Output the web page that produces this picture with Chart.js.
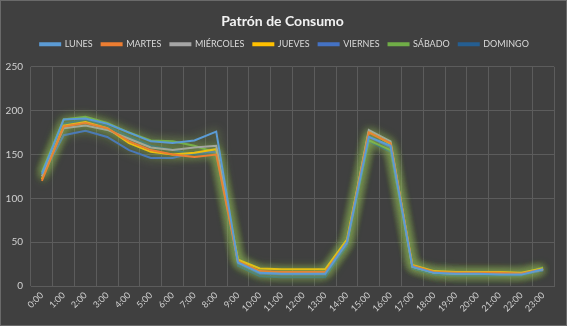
<!DOCTYPE html>
<html><head><meta charset="utf-8">
<script src="https://cdn.jsdelivr.net/npm/chart.js@4.4.0/dist/chart.umd.min.js"></script>
<style>
html,body{margin:0;padding:0;background:#404040;}
#wrap{position:relative;width:565px;height:324px;border:1px solid #6a6a6a;background:#404040;}
canvas{display:block;}
</style></head><body>
<div id="wrap"><canvas id="c" width="565" height="324"></canvas></div>
<script>
const hours = ["0:00","1:00","2:00","3:00","4:00","5:00","6:00","7:00","8:00","9:00","10:00","11:00","12:00","13:00","14:00","15:00","16:00","17:00","18:00","19:00","20:00","21:00","22:00","23:00"];
const seriesNames = ["LUNES","MARTES","MIÉRCOLES","JUEVES","VIERNES","SÁBADO","DOMINGO"];
const lunes     = [128,190,191,185,175,165,163,166,176,27,15,14,14,14,50,170,160,22,15,14,14,13,13,19];
const martes    = [120,182,186,180,165,155,150,147,150,28,17,16,16,16,50,175,163,23,16,15,15,15,14,19];
const miercoles = [125,180,183,178,168,158,155,158,160,27,16,15,15,15,50,178,165,22,15,14,14,14,14,19];
const jueves    = [122,183,187,180,163,153,150,152,156,30,20,19,19,19,53,176,162,24,17,16,16,16,15,20];
const viernes   = [125,172,177,170,155,146,146,152,153,26,14,13,13,13,48,170,158,22,15,14,14,14,13,18];
const sabado    = [130,190,193,186,175,166,165,160,152,30,16,15,15,15,50,166,155,22,15,14,14,14,14,21];
const domingo   = [130,185,190,182,170,160,155,150,150,23,11,10,10,10,46,165,153,20,13,12,12,12,12,18];
const yTicks = [0,50,100,150,200,250];

const colors = ["#5B9BD5","#ED7D31","#A5A5A5","#FFC000","#4472C4","#70AD47","#255E91"];
const values = [lunes,martes,miercoles,jueves,viernes,sabado,domingo];

const glowPlugin = {
  id:'glow',
  beforeDatasetDraw(chart, args){
    const ctx = chart.ctx;
    ctx.save();
    ctx.shadowColor = 'rgba(150,195,85,0.75)';
    ctx.shadowBlur = 10;
  },
  afterDatasetDraw(chart){
    chart.ctx.restore();
  }
};
function shiftBox(box, dx){
  const d = box.draw;
  box.draw = function(){ const c=this.ctx; c.save(); c.translate(dx,0); d.apply(this, arguments); c.restore(); };
}
const legendMargin = {
  id:'legendMargin',
  beforeInit(chart){
    const fit = chart.legend.fit;
    chart.legend.fit = function(){ fit.bind(chart.legend)(); this.height += 8; };
    shiftBox(chart.legend, 7);
    if (chart.titleBlock) shiftBox(chart.titleBlock, 5);
  }
};

new Chart(document.getElementById('c'), {
  type:'line',
  data:{
    labels: hours,
    datasets: seriesNames.map((n,i)=>({
      label:n, data:values[i], borderColor:colors[i], backgroundColor:colors[i],
      borderWidth:2, pointRadius:0, tension:0, fill:false
    }))
  },
  options:{
    responsive:false, animation:false,
    layout:{padding:{left:0,right:12,top:9,bottom:0}},
    plugins:{
      title:{display:true,text:'Patrón de Consumo',color:'#f2f2f2',
        font:{family:'Lato',size:14,weight:'bold'},padding:{top:3,bottom:1}},
      legend:{display:true,labels:{color:'#d9d9d9',font:{family:'Lato',size:9},
        boxWidth:20,boxHeight:2,padding:9}},
      tooltip:{enabled:false}
    },
    scales:{
      x:{offset:true,
        grid:{color:'#5c5c5c',offset:true,drawTicks:false},
        border:{color:'#5c5c5c'},
        ticks:{color:'#d0d0d0',font:{family:'Lato',size:9},maxRotation:45,minRotation:45,padding:4},
        afterFit(s){s.height=39;}
      },
      y:{min:0,max:250,
        afterBuildTicks(s){s.ticks=yTicks.map(v=>({value:v}));},
        grid:{color:'#5c5c5c',drawTicks:false},
        border:{display:false},
        ticks:{color:'#d0d0d0',font:{family:'Lato',size:10},padding:8},
        afterFit(s){s.width=30;}
      }
    }
  },
  plugins:[glowPlugin, legendMargin]
});
</script>
</body></html>
